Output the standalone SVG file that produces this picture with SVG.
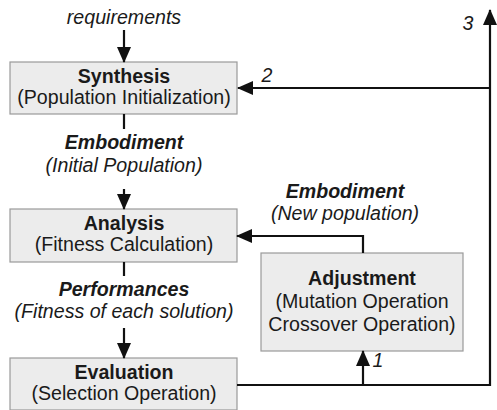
<svg xmlns="http://www.w3.org/2000/svg" width="497" height="410" viewBox="0 0 497 410">
<defs>
<marker id="ah" viewBox="0 0 16 14" refX="15" refY="7" markerWidth="16" markerHeight="14" markerUnits="userSpaceOnUse" orient="auto">
<path d="M0,0 L16,7 L0,14 Z" fill="#111"/>
</marker>
<style>
.box{fill:#ececec;stroke:#9a9a9a;stroke-width:1.2}
.t{font-family:"Liberation Sans",Arial,sans-serif;font-size:19.6px;fill:#1a1a1a;text-anchor:middle}
.b{font-weight:bold}
.i{font-style:italic}
.ln{fill:none;stroke:#111;stroke-width:2.2}
</style>
</defs>
<rect width="497" height="410" fill="#fff"/>
<g id="requirements"><text class="t i" x="124" y="24">requirements</text></g>
<g id="synthesis">
<rect class="box" x="10" y="62" width="227" height="52"/>
<text class="t b" x="124" y="83">Synthesis</text>
<text class="t" x="124" y="104">(Population Initialization)</text>
</g>
<g id="analysis">
<rect class="box" x="10" y="209" width="227" height="53"/>
<text class="t b" x="124" y="230">Analysis</text>
<text class="t" x="124" y="251">(Fitness Calculation)</text>
</g>
<g id="evaluation">
<rect class="box" x="10" y="358" width="227" height="52"/>
<text class="t b" x="124" y="379">Evaluation</text>
<text class="t" x="124" y="400">(Selection Operation)</text>
</g>
<g id="adjustment">
<rect class="box" x="261" y="253" width="202" height="98"/>
<text class="t b" x="362" y="285">Adjustment</text>
<text class="t" x="362" y="308">(Mutation Operation</text>
<text class="t" x="362" y="331">Crossover Operation)</text>
</g>
<g id="connectors">
<line class="ln" x1="124" y1="30" x2="124" y2="62" marker-end="url(#ah)"/>
<line class="ln" x1="124" y1="114" x2="124" y2="129"/>
<line class="ln" x1="124" y1="189" x2="124" y2="209" marker-end="url(#ah)"/>
<line class="ln" x1="124" y1="262" x2="124" y2="276"/>
<line class="ln" x1="124" y1="328" x2="124" y2="358" marker-end="url(#ah)"/>
<polyline class="ln" points="363,253 363,236 237,236" marker-end="url(#ah)"/>
<polyline class="ln" points="237,385 490,385 490,10" marker-end="url(#ah)"/>
<line class="ln" x1="490" y1="88" x2="238" y2="88" marker-end="url(#ah)"/>
<line class="ln" x1="363" y1="385" x2="363" y2="351" marker-end="url(#ah)"/>
</g>
<g id="labels">
<text class="t b i" x="124" y="149">Embodiment</text>
<text class="t i" x="124" y="172">(Initial Population)</text>
<text class="t b i" x="124" y="296">Performances</text>
<text class="t i" x="124" y="318">(Fitness of each solution)</text>
<text class="t b i" x="345" y="198">Embodiment</text>
<text class="t i" x="345" y="220">(New population)</text>
<text class="t i" x="267" y="82">2</text>
<text class="t i" x="468" y="30">3</text>
<text class="t i" x="378" y="367">1</text>
</g>
</svg>
